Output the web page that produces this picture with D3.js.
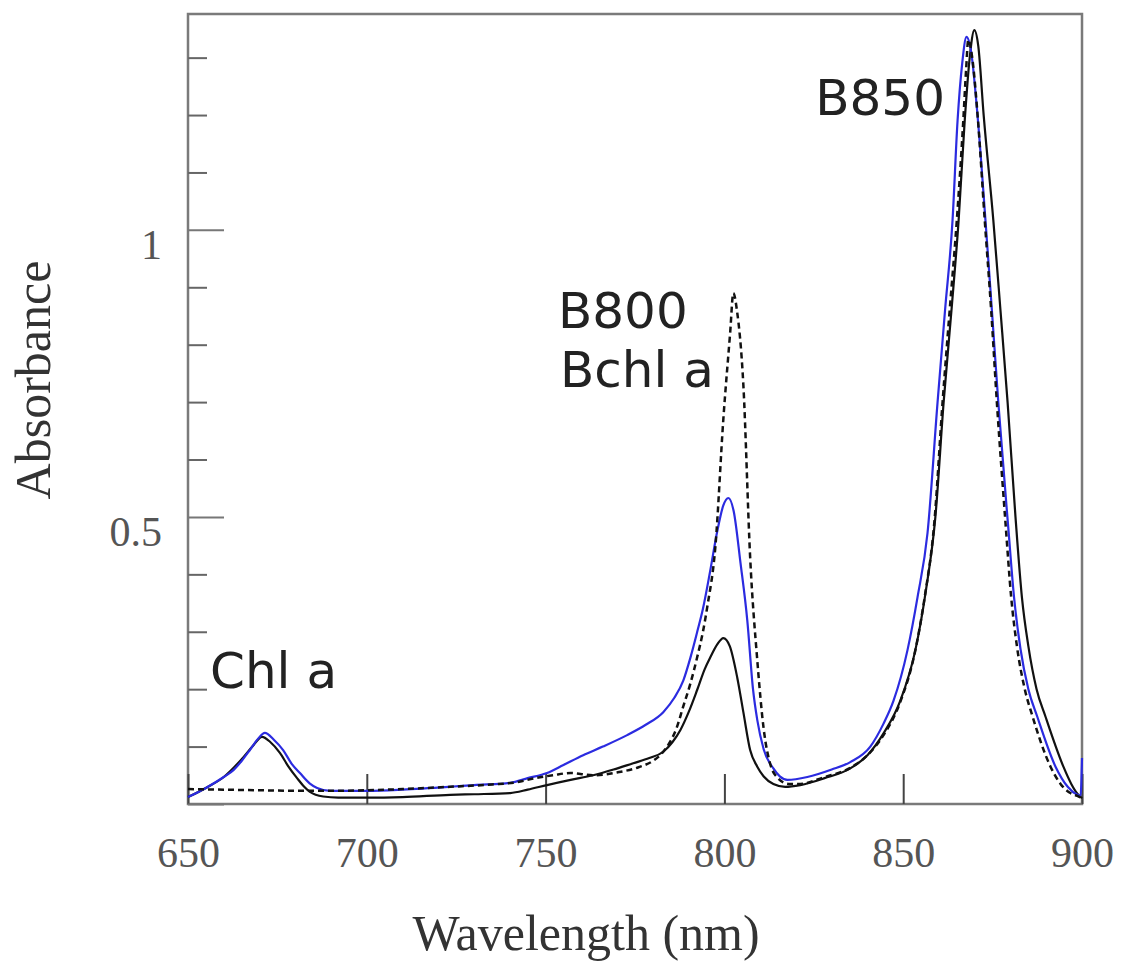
<!DOCTYPE html>
<html>
<head>
<meta charset="utf-8">
<script src="https://cdn.jsdelivr.net/npm/d3@7"></script>
<style>
  body { margin: 0; background: #fff; }
  .tick text { font-family: "Liberation Serif", serif; fill: #555; }
</style>
</head>
<body>
<script>
// Absorption spectra: [wavelength nm, absorbance]
var blueSeries = [
  [650,0.012],[655,0.028],[660,0.047],[662.7,0.059],[665,0.075],[667.3,0.094],[669.5,0.113],[671.5,0.124],
  [674,0.112],[676.6,0.094],[679,0.07],[681.3,0.054],[684,0.036],[686.1,0.028],[689.7,0.023],[700,0.023],
  [710,0.025],[723.3,0.030],[730,0.033],[740.1,0.037],[745,0.045],[750.4,0.054],[755,0.068],[760.5,0.085],
  [766,0.10],[772.8,0.12],[778,0.138],[782.9,0.16],[786,0.185],[788.5,0.215],[790.5,0.255],[792.4,0.3],
  [794,0.34],[796,0.405],[798,0.475],[799.7,0.52],[801.1,0.533],[802.6,0.51],[804.5,0.42],[806.4,0.32],
  [808,0.2],[809.2,0.146],[811,0.095],[813.7,0.062],[815.5,0.048],[817.6,0.042],[823.2,0.047],[830,0.06],
  [835.2,0.073],[840.8,0.10],[844.5,0.14],[847.3,0.18],[851.2,0.268],[854,0.36],[856.8,0.472],[859.6,0.699],
  [861.7,0.86],[863.8,1.017],[865.2,1.19],[866.5,1.29],[867.7,1.336],[869,1.31],[870.5,1.22],[873,1.017],
  [874.8,0.86],[876.6,0.699],[879.4,0.48],[881,0.36],[882.8,0.27],[885,0.2],[887.5,0.152],[892.6,0.065],
  [896,0.03],[898.7,0.016],[899.6,0.014],[900,0.08]
];

var blackSeries = [
  [650,0.012],[655,0.028],[660,0.047],[665,0.078],[668,0.1],[670.7,0.117],[673,0.108],[675.7,0.089],
  [678,0.066],[680.5,0.045],[682.5,0.03],[684.1,0.021],[687.8,0.013],[692,0.011],[700,0.011],[710,0.012],
  [723.3,0.016],[730,0.017],[740.1,0.019],[745,0.025],[750.4,0.033],[757,0.042],[763.3,0.05],[769,0.06],
  [774.5,0.071],[779,0.08],[782.9,0.091],[785.5,0.108],[787.7,0.129],[790,0.16],[792.4,0.199],[794.5,0.235],
  [796.1,0.256],[798,0.278],[799.7,0.289],[801.5,0.275],[803.6,0.22],[805.3,0.16],[807.2,0.094],[809.2,0.065],
  [811,0.048],[813.7,0.035],[817,0.03],[821.2,0.033],[828,0.045],[835.2,0.062],[840,0.085],[844.5,0.123],
  [849.2,0.18],[853.4,0.268],[856.3,0.37],[859,0.5],[861.3,0.699],[863.5,0.86],[865.5,1.017],[867.2,1.19],
  [868.6,1.3],[869.9,1.348],[871,1.32],[872.5,1.2],[875.2,1.017],[877.2,0.86],[879.2,0.699],[881.4,0.5],
  [883.2,0.36],[885,0.275],[887.3,0.2],[889.8,0.152],[894.8,0.065],[897,0.035],[898.7,0.018],[900,0.01]
];

var dashedSeries = [
  [650,0.026],[660,0.025],[670,0.024],[680,0.023],[690,0.023],[700,0.024],[710,0.026],[723.3,0.03],
  [735,0.034],[742,0.038],[747,0.045],[752,0.05],[757,0.054],[763.3,0.05],[770,0.055],[776,0.064],
  [780,0.075],[782.5,0.088],[784.5,0.105],[786.5,0.13],[788.5,0.17],[790.5,0.21],[792.4,0.256],[794,0.3],
  [795.2,0.343],[797.5,0.45],[799.7,0.67],[801.6,0.82],[802.5,0.89],[803.5,0.86],[805.3,0.73],[807.2,0.43],
  [809.2,0.25],[811,0.13],[812.8,0.07],[815,0.045],[818,0.035],[821.2,0.035],[828,0.047],[835.2,0.063],
  [840,0.085],[844.5,0.12],[849.2,0.178],[853.4,0.268],[856,0.36],[858.7,0.49],[861,0.699],[863,0.86],
  [865,1.017],[866.8,1.19],[867.6,1.28],[868.2,1.331],[869.3,1.3],[870.8,1.2],[872.8,1.017],[874.6,0.86],
  [876.2,0.699],[878.6,0.49],[880.2,0.36],[881.8,0.275],[884,0.2],[886.2,0.152],[891.2,0.065],[894,0.035],
  [896.5,0.02],[898.7,0.014],[900,0.01]
];

var xTicks = [650, 700, 750, 800, 850, 900];
var yMajor = [0, 0.5, 1];
var yMinor = [0.1, 0.2, 0.3, 0.4, 0.6, 0.7, 0.8, 0.9, 1.1, 1.2, 1.3];

var labels = [
  {text: "B850", x: 945, y: 115, anchor: "end"},
  {text: "B800", x: 558, y: 328, anchor: "start"},
  {text: "Bchl a", x: 560, y: 387, anchor: "start"},
  {text: "Chl a", x: 210, y: 688, anchor: "start"}
];

// Chart basic vars
var width = 1125, height = 967,
    plot = {left: 188, right: 1082, top: 14, bottom: 804};

var x = d3.scaleLinear().domain([650, 900]).range([plot.left, plot.right]),
    y = d3.scaleLinear().domain([0, 1.376]).range([plot.bottom, plot.top]);

var svg = d3.select("body").append("svg")
    .attr("width", width)
    .attr("height", height);

// frame
svg.append("rect")
    .attr("x", plot.left).attr("y", plot.top)
    .attr("width", plot.right - plot.left).attr("height", plot.bottom - plot.top)
    .attr("fill", "none").attr("stroke", "#7a7a7a").attr("stroke-width", 2.5);

// x axis, ticks pointing inward
svg.append("g")
    .attr("transform", "translate(0," + plot.bottom + ")")
    .call(d3.axisBottom(x).tickValues(xTicks).tickSize(-30).tickPadding(33))
    .call(function(g) { g.select(".domain").remove(); })
    .call(function(g) {
        g.selectAll("line").attr("stroke", "#444").attr("stroke-width", 2);
        g.selectAll("text").style("font-size", "42px");
    });

// y axis, minor then major
svg.append("g")
    .attr("transform", "translate(" + plot.left + ",0)")
    .call(d3.axisLeft(y).tickValues(yMinor).tickSize(-19).tickFormat(""))
    .call(function(g) { g.select(".domain").remove(); })
    .call(function(g) { g.selectAll("line").attr("stroke", "#666").attr("stroke-width", 2); });

svg.append("g")
    .attr("transform", "translate(" + plot.left + ",0)")
    .call(d3.axisLeft(y).tickValues(yMajor).tickSize(-36).tickPadding(26)
        .tickFormat(function(d) { return d === 0 ? "" : d3.format("")(d); }))
    .call(function(g) { g.select(".domain").remove(); })
    .call(function(g) {
        g.selectAll("line").attr("stroke", "#777").attr("stroke-width", 2);
        g.selectAll("text").style("font-size", "42px").attr("dy", "0.68em");
    });

// spectra
var line = d3.line()
    .x(function(d) { return x(d[0]); })
    .y(function(d) { return y(d[1]); })
    .curve(d3.curveMonotoneX);

svg.append("path").datum(blackSeries)
    .attr("d", line).attr("fill", "none")
    .attr("stroke", "#111").attr("stroke-width", 2.2);

svg.append("path").datum(blueSeries)
    .attr("d", line).attr("fill", "none")
    .attr("stroke", "#2b2be0").attr("stroke-width", 2.2);

svg.append("path").datum(dashedSeries)
    .attr("d", line).attr("fill", "none")
    .attr("stroke", "#111").attr("stroke-width", 2.5)
    .attr("stroke-dasharray", "6,4");

// band labels
svg.selectAll(".band")
    .data(labels)
  .enter().append("text")
    .attr("class", "band")
    .attr("x", function(d) { return d.x; })
    .attr("y", function(d) { return d.y; })
    .attr("text-anchor", function(d) { return d.anchor; })
    .style("font-family", "'DejaVu Sans', sans-serif")
    .style("font-size", "50px")
    .style("fill", "#222")
    .text(function(d) { return d.text; });

// axis titles
svg.append("text")
    .attr("x", 586).attr("y", 950)
    .attr("text-anchor", "middle")
    .style("font-family", "'Liberation Serif', serif")
    .style("font-size", "50px").style("fill", "#333")
    .text("Wavelength (nm)");

svg.append("text")
    .attr("transform", "translate(50,380) rotate(-90)")
    .attr("text-anchor", "middle")
    .style("font-family", "'Liberation Serif', serif")
    .style("font-size", "50px").style("fill", "#333")
    .text("Absorbance");
</script>
</body>
</html>
